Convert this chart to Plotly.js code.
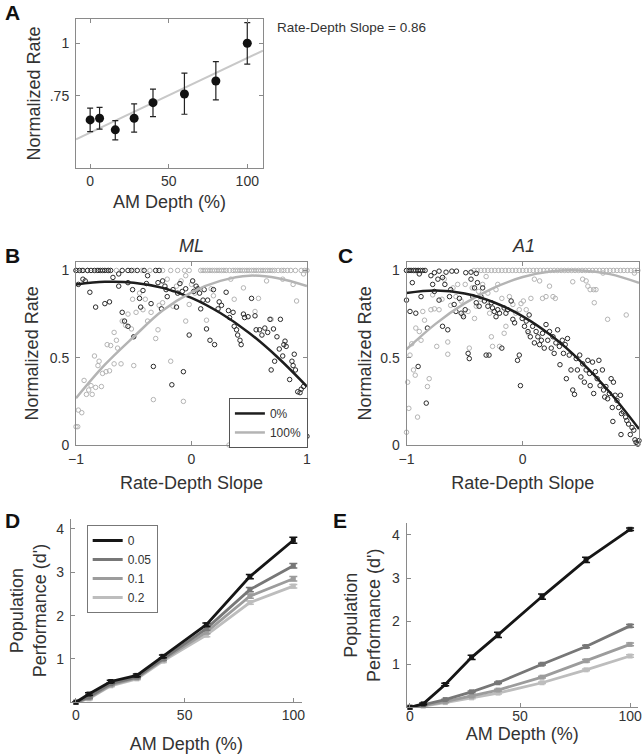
<!DOCTYPE html>
<html>
<head>
<meta charset="utf-8">
<script src="https://cdn.plot.ly/plotly-3.0.1.min.js"></script>
<style>html,body{margin:0;padding:0;background:#fff;}#chart{width:643px;height:754px;}</style>
</head>
<body>
<div id="chart"></div>
<script>
// ---------- Panel A ----------
var aDepth = [0, 6, 16, 28, 40, 60, 80, 100];
var aRate = [0.636, 0.644, 0.589, 0.644, 0.718, 0.759, 0.821, 1.0];
var aErrUp = [0.056, 0.052, 0.044, 0.068, 0.064, 0.099, 0.092, 0.098];
var aErrDown = [0.055, 0.052, 0.048, 0.066, 0.066, 0.096, 0.09, 0.099];
var aFitX = [-9, 110];
var aFitY = [0.544, 0.965];
var aSlopeText = "Rate-Depth Slope = 0.86";

// ---------- Panels B & C: fitted curves ----------
var curveX = [-1, -0.75, -0.5, -0.25, 0, 0.25, 0.5, 0.75, 1];
var bCurve0 = [0.92, 0.935, 0.93, 0.9, 0.843, 0.756, 0.642, 0.5, 0.335];
var bCurve100 = [0.268, 0.46, 0.62, 0.77, 0.875, 0.94, 0.97, 0.955, 0.91];
var cCurve0 = [0.871, 0.885, 0.868, 0.818, 0.737, 0.624, 0.478, 0.301, 0.092];
var cCurve100 = [0.548, 0.694, 0.811, 0.90, 0.962, 0.995, 1.0, 0.979, 0.929];

// ---------- Panel B (ML) scatter ----------
var bBlackX = [-1,-0.97,-0.94,-0.9,-0.87,-0.84,-0.81,-0.79,-0.77,-0.75,-0.72,-0.7,-0.6,-0.55,-0.52,-0.47,-0.41,-0.31,-0.28,
  -0.98,-0.94,-0.92,-0.88,-0.83,-0.75,-0.71,-0.68,-0.63,-0.63,-0.6,-0.58,-0.55,-0.55,-0.51,-0.5,-0.45,-0.44,-0.42,-0.39,-0.38,-0.35,-0.33,
  -0.29,-0.26,-0.25,-0.23,-0.22,-0.21,-0.17,-0.16,-0.13,-0.12,-0.1,-0.08,-0.07,-0.05,-0.02,0.01,0.02,0.04,0.055,0.07,0.08,0.1,0.11,0.13,
  0.14,0.16,0.19,0.2,0.23,0.24,0.26,0.3,0.32,0.33,0.36,0.37,0.39,0.4,0.42,0.43,0.45,0.46,0.49,0.52,0.55,0.56,0.59,0.61,0.635,0.65,0.66,
  0.68,0.69,0.71,0.72,0.74,0.76,0.77,0.79,0.8,0.81,0.82,0.85,0.87,0.88,0.89,0.9,0.92,0.94,0.95,0.97,0.97,0.98,1.0];
var bBlackY = [1,1,1,1,1,1,1,1,1,1,1,1,1,1,1,1,1,1,1,
  0.92,0.95,0.94,0.875,0.79,0.81,0.82,0.96,0.91,0.98,0.76,0.71,0.68,0.93,0.89,0.62,0.84,0.79,0.885,0.925,0.97,0.81,0.45,
  0.93,0.78,0.94,0.91,0.89,0.85,0.345,0.89,0.79,0.87,0.925,0.88,0.42,0.895,0.63,0.94,0.88,0.91,0.895,0.87,0.78,0.83,0.89,0.665,
  0.83,0.6,0.89,0.575,0.78,0.82,0.8,0.875,0.77,0.73,0.76,0.68,0.66,0.63,0.6,0.575,0.75,0.73,0.735,0.84,0.74,0.66,0.66,0.63,0.67,0,0.645,
  0.72,0.43,0.665,0.48,0.62,0.55,0.72,0.51,0.575,0.595,0.565,0.375,0.48,0.455,0.52,0.43,0.305,0.3,0.32,0.135,0.335,0.095,0.05];

var bGrayX = [0.08,0.1,0.12,0.14,0.16,0.18,0.2,0.22,0.24,0.26,0.28,0.3,0.33,0.36,0.38,0.4,0.42,0.44,0.46,0.48,0.5,0.52,0.54,0.56,0.58,
  0.6,0.62,0.64,0.66,0.68,0.7,0.72,0.75,0.78,0.8,0.83,0.86,0.9,0.95,0.98,1.0,-0.25,-0.18,-0.12,-0.06,-0.02,
  -1,-0.95,-0.9,-0.82,-0.73,-0.65,-0.5,-0.43,-0.36,
  -1,-0.985,-0.98,-0.95,-0.93,-0.91,-0.89,-0.87,-0.86,-0.84,-0.83,-0.81,-0.8,-0.78,-0.77,-0.74,-0.73,-0.71,-0.7,-0.67,-0.67,-0.65,-0.64,
  -0.61,-0.6,-0.57,-0.55,-0.52,-0.51,-0.5,-0.48,-0.45,-0.42,-0.4,-0.38,-0.35,-0.33,-0.31,-0.29,-0.28,-0.25,-0.21,-0.18,-0.16,-0.13,-0.09,
  -0.07,-0.05,-0.05,-0.02,0,0.03,0.13,0.17,0.19,0.325,0.34,0.37,0.45,0.55,0.58,0.65,0.69,0.79,0.88,0.91,0.97];
var bGrayY = [1,1,1,1,1,1,1,1,1,1,1,1,1,1,1,1,1,1,1,1,1,1,1,1,1,
  1,1,1,1,1,1,1,1,1,1,1,1,1,1,1,1,1,1,1,1,1,
  1,1,1,1,1,1,1,1,1,
  0.105,0.105,0.2,0.185,0.37,0.29,0.315,0.34,0.29,0.51,0.33,0.455,0.48,0.335,0.41,0.42,0.575,0.425,0.57,0.645,0.465,0.6,0.555,
  0.465,0.71,0.685,0.75,0.665,0.835,0.455,0.76,0.87,0.775,0.835,0.71,0.76,0.26,0.61,0.66,0.8,0.815,0.95,0.48,0.795,0.91,0.94,
  0.25,0.97,0.71,0.805,0.92,0.87,0.715,0.895,0.855,0,0.95,0.835,0.9,0.765,0.84,0.94,0.72,0.95,0.92,0.825,0.98];

// ---------- Panel C (A1) scatter ----------
var cBlackX = [-1,-0.98,-0.96,-0.94,-0.92,-0.9,-0.88,-0.86,-0.84,-0.76,-0.72,-0.66,-0.61,-0.57,-0.49,-0.445,-0.4,
  -1,-0.97,-0.95,-0.92,-0.9,-0.89,-0.875,-0.83,-0.82,-0.79,-0.775,-0.76,-0.73,-0.72,-0.69,-0.69,-0.67,-0.645,-0.63,-0.62,-0.59,-0.575,
  -0.545,-0.53,-0.51,-0.495,-0.47,-0.46,-0.445,-0.43,-0.415,-0.4,-0.39,-0.375,-0.36,-0.345,-0.33,-0.315,-0.3,-0.29,-0.27,-0.26,-0.245,
  -0.23,-0.215,-0.2,-0.18,-0.16,-0.145,-0.13,-0.1,-0.085,-0.07,-0.045,-0.03,-0.02,-0.005,0.015,0.03,0.045,0.055,0.065,0.085,0.1,0.115,
  0.13,0.145,0.16,0.17,0.185,0.2,0.215,0.23,0.245,0.26,0.27,0.285,0.3,0.315,0.32,0.34,0.35,0.365,0.375,0.385,0.4,0.415,0.43,0.445,0.46,
  0.47,0.49,0.5,0.515,0.53,0.545,0.56,0.575,0.58,0.6,0.61,0.625,0.64,0.655,0.665,0.685,0.695,0.705,0.715,0.73,0.745,0.76,0.77,0.78,
  0.795,0.81,0.825,0.84,0.85,0.865,0.885,0.895,0.91,0.925,0.94,0.955,0.965,0.975,0.99,1.0,0.845,0.775];
var cBlackY = [1,1,1,1,1,1,1,1,1,0.987,0.996,0.99,0.996,0.996,0.987,0.99,0.983,
  0.83,0.765,0.93,0.755,0.45,0.98,0.85,0.24,0.67,0.97,0.92,0.88,0.95,0.83,0.96,0.68,0.92,0.66,0.85,0.89,0.805,0.765,
  0.84,0.755,0.735,0.775,0.525,0.495,0.95,0.85,0.9,0.815,0.93,0.795,0.85,0.9,0.825,0.515,0.795,0.515,0.815,0.785,0.765,
  0.735,0.775,0.755,0.555,0.785,0.755,0.775,0.825,0.72,0.7,0.485,0.515,0.34,0.725,0.68,0.71,0.65,0.745,0.62,0.68,0.585,0.65,
  0.62,0.575,0.6,0.64,0.555,0.69,0.6,0.65,0.555,0.62,0.525,0.585,0.66,0.565,0.46,0.6,0.525,0.575,0.38,0.61,0.515,0.43,0.315,0.29,0.495,
  0.43,0.515,0.39,0.465,0.36,0.43,0.485,0.41,0.34,0.475,0.295,0.42,0.38,0.485,0.34,0.43,0.315,0.275,0.335,0.265,0.295,0.38,0.215,0.36,
  0.285,0.255,0.215,0.285,0.18,0.19,0.16,0.14,0.12,0.06,0.1,0.085,0.03,0.015,0.005,0.025,0.06,0.135];

var cGrayX = [-0.42,-0.39,-0.36,-0.33,-0.3,-0.27,-0.24,-0.21,-0.18,-0.15,-0.12,-0.09,-0.06,-0.03,0,0.03,0.06,0.09,0.12,0.15,0.18,0.21,
  0.24,0.27,0.3,0.33,0.36,0.39,0.42,0.45,0.48,0.51,0.54,0.57,0.6,0.63,0.66,0.69,0.72,0.75,0.78,0.81,0.84,0.87,0.9,0.93,0.96,0.99,
  -1,-0.97,-0.93,-0.9,
  -1,-0.99,-0.98,-0.97,-0.955,-0.94,-0.925,-0.905,-0.92,-0.89,-0.875,-0.86,-0.845,-0.82,-0.805,-0.79,-0.775,-0.76,-0.74,-0.72,-0.695,
  -0.675,-0.645,-0.645,-0.62,-0.6,-0.575,-0.56,-0.53,-0.515,-0.495,-0.47,-0.46,-0.435,-0.415,-0.4,-0.38,-0.36,-0.345,-0.315,-0.3,-0.285,
  -0.27,-0.26,-0.23,-0.215,-0.2,-0.18,-0.16,-0.145,-0.115,-0.085,-0.06,-0.03,-0.015,0.005,0.03,0.05,0.07,0.1,0.145,0.17,0.2,0.23,0.26,
  0.28,0.43,0.515,0.545,0.56,0.58,0.61,0.63,0.615,0.69,0.73,0.89,0.96];
var cGrayY = [1,1,1,1,1,1,1,1,1,1,1,1,1,1,1,1,1,1,1,1,1,1,
  1,1,1,1,1,1,1,1,1,1,1,1,1,1,1,1,1,1,1,1,1,1,1,1,1,1,
  1,1,1,1,
  0.073,0.36,0.21,0.515,0.58,0.43,0.4,0.16,0.67,0.65,0.6,0.765,0.715,0.335,0.38,0.775,0.86,0.78,0.565,0.775,0.835,
  0.95,0.52,0.59,0.8,0.9,0.85,0.92,0.825,0.745,0.92,0.765,0.555,0.9,0.725,0.795,0.88,0.835,0.92,0.965,0.87,0.755,
  0.62,0.565,0.89,0.92,0.565,0.84,0.64,0.68,0.85,0.805,0.755,0.775,0.81,0.825,0.775,0.64,0.84,0.95,0.94,0.84,0.85,0.91,0.85,
  0.84,0.935,0.95,0.94,0.91,0.89,0.89,0.89,0.815,0.985,0.72,0.745,0.985];

// ---------- Panels D & E ----------
var depthDE = [0, 6, 16, 28, 40, 60, 80, 100];
var noiseLabels = ["0", "0.05", "0.1", "0.2"];
var noiseColors = ["#161616", "#777777", "#9c9c9c", "#bdbdbd"];
var dPerf = [
  [0, 0.19, 0.48, 0.62, 1.06, 1.79, 2.9, 3.74],
  [0, 0.12, 0.43, 0.58, 1.0, 1.7, 2.6, 3.15],
  [0, 0.1, 0.4, 0.56, 0.98, 1.62, 2.45, 2.85],
  [0, 0.08, 0.38, 0.54, 0.95, 1.55, 2.3, 2.68]
];
var dErr = [
  [0, 0.03, 0.03, 0.03, 0.03, 0.04, 0.05, 0.07],
  [0, 0.02, 0.02, 0.02, 0.03, 0.04, 0.05, 0.05],
  [0, 0.02, 0.02, 0.02, 0.03, 0.04, 0.05, 0.05],
  [0, 0.02, 0.02, 0.02, 0.03, 0.04, 0.04, 0.04]
];
var ePerf = [
  [0, 0.08, 0.53, 1.16, 1.68, 2.57, 3.42, 4.13],
  [0, 0.06, 0.18, 0.36, 0.57, 1.0, 1.41, 1.89],
  [0, 0.04, 0.13, 0.26, 0.4, 0.7, 1.08, 1.46],
  [0, 0.03, 0.11, 0.22, 0.33, 0.57, 0.87, 1.19]
];
var eErr = [
  [0, 0.02, 0.03, 0.05, 0.06, 0.06, 0.06, 0.03],
  [0, 0.01, 0.01, 0.02, 0.02, 0.02, 0.03, 0.03],
  [0, 0.01, 0.01, 0.02, 0.02, 0.02, 0.03, 0.03],
  [0, 0.01, 0.01, 0.02, 0.02, 0.02, 0.02, 0.03]
];

// ---------- Build traces ----------
var BLACK = "#1e1e1e", GRAY = "#b4b4b4";
var traces = [];

traces.push({x: aFitX, y: aFitY, xaxis: "x", yaxis: "y", mode: "lines",
  line: {color: "#c8c8c8", width: 2}, showlegend: false, hoverinfo: "skip"});
traces.push({x: aDepth, y: aRate, xaxis: "x", yaxis: "y", mode: "markers",
  marker: {color: "#111", size: 9, symbol: "circle"},
  error_y: {type: "data", array: aErrUp, arrayminus: aErrDown, color: "#222", thickness: 1.2, width: 3},
  showlegend: false, cliponaxis: false});

function scat(x, y, ax, ay, color) {
  return {x: x, y: y, xaxis: ax, yaxis: ay, mode: "markers", showlegend: false, cliponaxis: false,
    marker: {symbol: "circle-open", size: 4.5, color: color, line: {width: 1, color: color}}};
}
function curve(x, y, ax, ay, color, name, show) {
  return {x: x, y: y, xaxis: ax, yaxis: ay, mode: "lines", name: name, showlegend: show, legend: "legend",
    line: {color: color, width: 2.5, shape: "spline"}};
}
traces.push(scat(bGrayX, bGrayY, "x2", "y2", GRAY));
traces.push(scat(bBlackX, bBlackY, "x2", "y2", "#2a2a2a"));
traces.push(curve(curveX, bCurve0, "x2", "y2", BLACK, "0%", true));
traces.push(curve(curveX, bCurve100, "x2", "y2", GRAY, "100%", true));

traces.push(scat(cGrayX, cGrayY, "x3", "y3", GRAY));
traces.push(scat(cBlackX, cBlackY, "x3", "y3", "#2a2a2a"));
traces.push(curve(curveX, cCurve100, "x3", "y3", GRAY, "100%", false));
traces.push(curve(curveX, cCurve0, "x3", "y3", BLACK, "0%", false));

for (var i = noiseLabels.length - 1; i >= 0; i--) {
  traces.push({x: depthDE, y: dPerf[i], xaxis: "x4", yaxis: "y4", mode: "lines+markers", showlegend: false, cliponaxis: false,
    line: {color: noiseColors[i], width: 2.8}, marker: {symbol: "square", size: 5, color: noiseColors[i]},
    error_y: {type: "data", array: dErr[i], color: i === 0 ? "#111" : noiseColors[i], thickness: 1.5, width: 4}});
  traces.push({x: depthDE, y: ePerf[i], xaxis: "x5", yaxis: "y5", mode: "lines+markers", showlegend: false, cliponaxis: false,
    line: {color: noiseColors[i], width: 2.8}, marker: {symbol: "square", size: 5, color: noiseColors[i]},
    error_y: {type: "data", array: eErr[i], color: i === 0 ? "#111" : noiseColors[i], thickness: 1.5, width: 4}});
}
// legend entries for panel D (line samples)
for (var j = 0; j < noiseLabels.length; j++) {
  traces.push({x: [null], y: [null], xaxis: "x4", yaxis: "y4", mode: "lines", name: noiseLabels[j],
    legend: "legend2", showlegend: true, line: {color: noiseColors[j], width: 3}});
}

// ---------- Layout ----------
var FONT = "Liberation Sans, Arial, Helvetica, sans-serif";
var AXC = "#8a8a8a";
function boxAxis(extra) {
  var a = {showline: true, mirror: "ticks", linecolor: AXC, linewidth: 1, ticks: "inside", ticklen: 4,
    tickcolor: AXC, showgrid: false, zeroline: false, automargin: false, ticklabelstandoff: 3,
    tickfont: {family: FONT, size: 14, color: "#333"}};
  for (var k in extra) a[k] = extra[k];
  return a;
}
function openAxis(extra) {
  var a = boxAxis(extra);
  a.mirror = false;
  return a;
}
var titleFont = {family: FONT, size: 18, color: "#333"};

var layout = {
  width: 643, height: 754,
  margin: {l: 0, r: 0, t: 0, b: 0},
  paper_bgcolor: "#fff", plot_bgcolor: "#fff",
  font: {family: FONT, color: "#333"},
  xaxis: boxAxis({domain: [0.1182, 0.4090], range: [-9, 110], anchor: "y", tickvals: [0, 50, 100], ticklabelstandoff: 0,
    title: {text: "AM Depth (%)", font: titleFont, standoff: 7}}),
  yaxis: boxAxis({domain: [0.7772, 0.9748], range: [0.408, 1.115], anchor: "x", tickvals: [0.75, 1], ticktext: [".75", "1"],
    title: {text: "Normalized Rate", font: titleFont, standoff: 4}}),
  xaxis2: boxAxis({domain: [0.1182, 0.4774], range: [-1, 1], anchor: "y2", tickvals: [-1, 0, 1], ticklabelstandoff: 1,
    title: {text: "Rate-Depth Slope", font: titleFont, standoff: 10}}),
  yaxis2: boxAxis({domain: [0.4098, 0.6529], range: [0, 1.05], anchor: "x2", tickvals: [0, 0.5, 1], ticktext: ["0", "0.5", "1"],
    title: {text: "Normalized Rate", font: titleFont, standoff: 6}}),
  xaxis3: boxAxis({domain: [0.6322, 0.9938], range: [-1, 1], anchor: "y3", tickvals: [-1, 0, 1], ticklabelstandoff: 1,
    title: {text: "Rate-Depth Slope", font: titleFont, standoff: 10}}),
  yaxis3: boxAxis({domain: [0.4098, 0.6529], range: [0, 1.05], anchor: "x3", tickvals: [0, 0.5, 1], ticktext: ["0", "0.5", "1"],
    title: {text: "Normalized Rate", font: titleFont, standoff: 3}}),
  xaxis4: openAxis({domain: [0.1100, 0.4697], range: [-2.4, 104], anchor: "y4", tickvals: [0, 50, 100], ticklabelstandoff: 0,
    title: {text: "AM Depth (%)", font: titleFont, standoff: 17}}),
  yaxis4: openAxis({domain: [0.0686, 0.3117], range: [0, 4.23], anchor: "x4", tickvals: [1, 2, 3, 4],
    title: {text: "Population<br>Performance (d')", font: titleFont, standoff: 4}}),
  xaxis5: openAxis({domain: [0.6325, 0.9922], range: [-1.5, 103.6], anchor: "y5", tickvals: [0, 50, 100], ticklabelstandoff: -4,
    title: {text: "AM Depth (%)", font: titleFont, standoff: 1}}),
  yaxis5: openAxis({domain: [0.0619, 0.3060], range: [0, 4.27], anchor: "x5", tickvals: [1, 2, 3, 4],
    title: {text: "Population<br>Performance (d')", font: titleFont, standoff: 6}}),
  legend: {x: 0.356, y: 0.4722, xanchor: "left", yanchor: "top", yref: "paper", xref: "paper", bgcolor: "#fff", bordercolor: "#555", borderwidth: 1,
    font: {family: FONT, size: 12, color: "#333"}, tracegroupgap: 0, itemwidth: 30},
  legend2: {x: 0.1348, y: 0.3037, xanchor: "left", yanchor: "top", yref: "paper", xref: "paper", bgcolor: "#fff", bordercolor: "#777", borderwidth: 1,
    font: {family: FONT, size: 12, color: "#333"}, tracegroupgap: 0, itemwidth: 30},
  annotations: [
    {text: "<b>A</b>", x: 0.004, y: 0.984, xref: "paper", yref: "paper", xanchor: "left", yanchor: "middle", showarrow: false, font: {family: FONT, size: 21, color: "#111"}},
    {text: "<b>B</b>", x: 0.004, y: 0.6605, xref: "paper", yref: "paper", xanchor: "left", yanchor: "middle", showarrow: false, font: {family: FONT, size: 21, color: "#111"}},
    {text: "<b>C</b>", x: 0.522, y: 0.6605, xref: "paper", yref: "paper", xanchor: "left", yanchor: "middle", showarrow: false, font: {family: FONT, size: 21, color: "#111"}},
    {text: "<b>D</b>", x: 0.004, y: 0.3103, xref: "paper", yref: "paper", xanchor: "left", yanchor: "middle", showarrow: false, font: {family: FONT, size: 21, color: "#111"}},
    {text: "<b>E</b>", x: 0.515, y: 0.3103, xref: "paper", yref: "paper", xanchor: "left", yanchor: "middle", showarrow: false, font: {family: FONT, size: 21, color: "#111"}},
    {text: "<i>ML</i>", x: 0.2986, y: 0.6737, xref: "paper", yref: "paper", xanchor: "center", yanchor: "middle", showarrow: false, font: {family: FONT, size: 18, color: "#333"}},
    {text: "<i>A1</i>", x: 0.8134, y: 0.6737, xref: "paper", yref: "paper", xanchor: "center", yanchor: "middle", showarrow: false, font: {family: FONT, size: 18, color: "#333"}},
    {text: aSlopeText, x: 0.4277, y: 0.9629, xref: "paper", yref: "paper", xanchor: "left", yanchor: "middle", showarrow: false, font: {family: FONT, size: 13.5, color: "#333"}}
  ]
};

Plotly.newPlot("chart", traces, layout, {staticPlot: true, displayModeBar: false});
</script>
</body>
</html>
